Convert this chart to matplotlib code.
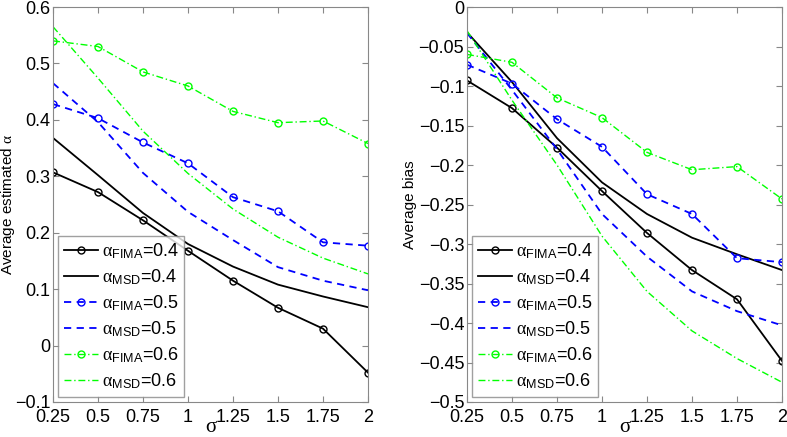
import numpy as np
import matplotlib
matplotlib.use('Agg')
import matplotlib.pyplot as plt

plt.rcParams['font.family'] = ['Liberation Sans', 'DejaVu Sans']
plt.rcParams['mathtext.fontset'] = 'custom'
plt.rcParams['mathtext.rm'] = 'Liberation Serif'
plt.rcParams['mathtext.it'] = 'Liberation Serif:italic'
plt.rcParams['mathtext.sf'] = 'Liberation Sans'

sigma = [0.25, 0.5, 0.75, 1.0, 1.25, 1.5, 1.75, 2.0]
xticklabels = ['0.25', '0.5', '0.75', '1', '1.25', '1.5', '1.75', '2']

# left panel: average estimated alpha
est_fima_04 = [0.307, 0.272, 0.222, 0.168, 0.115, 0.067, 0.030, -0.048]
est_msd_04 = [0.368, 0.302, 0.235, 0.180, 0.140, 0.108, 0.087, 0.068]
est_fima_05 = [0.428, 0.403, 0.360, 0.323, 0.263, 0.238, 0.183, 0.177]
est_msd_05 = [0.465, 0.396, 0.306, 0.237, 0.187, 0.139, 0.115, 0.098]
est_fima_06 = [0.540, 0.530, 0.485, 0.460, 0.415, 0.395, 0.398, 0.358]
est_msd_06 = [0.565, 0.474, 0.380, 0.305, 0.242, 0.192, 0.155, 0.127]

# right panel: average bias
bias_fima_04 = [-0.093, -0.128, -0.178, -0.233, -0.286, -0.333, -0.370, -0.448]
bias_msd_04 = [-0.032, -0.095, -0.166, -0.222, -0.262, -0.292, -0.313, -0.333]
bias_fima_05 = [-0.073, -0.097, -0.142, -0.177, -0.237, -0.262, -0.318, -0.323]
bias_msd_05 = [-0.033, -0.105, -0.180, -0.262, -0.316, -0.360, -0.385, -0.403]
bias_fima_06 = [-0.060, -0.070, -0.115, -0.140, -0.184, -0.206, -0.202, -0.243]
bias_msd_06 = [-0.030, -0.118, -0.200, -0.290, -0.360, -0.410, -0.445, -0.475]

labels = [r'$\mathrm{\alpha}_{\mathsf{FIMA}}$=0.4', r'$\mathrm{\alpha}_{\mathsf{MSD}}$=0.4',
          r'$\mathrm{\alpha}_{\mathsf{FIMA}}$=0.5', r'$\mathrm{\alpha}_{\mathsf{MSD}}$=0.5',
          r'$\mathrm{\alpha}_{\mathsf{FIMA}}$=0.6', r'$\mathrm{\alpha}_{\mathsf{MSD}}$=0.6']

styles = [
    dict(color='k', ls='-', lw=1.3, marker='o', mfc='none', ms=5),
    dict(color='k', ls='-', lw=1.3),
    dict(color='#0000ff', ls=(0, (4, 3)), lw=1.3, marker='o', mfc='none', ms=5),
    dict(color='#0000ff', ls=(0, (4, 3)), lw=1.3),
    dict(color='#00ff00', ls=(0, (5, 2, 1, 2)), lw=1.0, marker='o', mfc='none', ms=5),
    dict(color='#00ff00', ls=(0, (5, 2, 1, 2)), lw=1.0),
]


def panel(ax, series, ylim, yticks, yticklabels, ylabel, labelx):
    for s, st, lab in zip(series, styles, labels):
        ax.plot(sigma, s, label=lab, **st)
    ax.set_xlim(0.25, 2)
    ax.set_ylim(*ylim)
    ax.set_xticks(sigma)
    ax.set_xticklabels(xticklabels)
    ax.set_yticks(yticks)
    ax.set_yticklabels(yticklabels)
    ax.tick_params(direction='in', top=True, right=True, labelsize=13,
                   color='#888888', length=4, pad=2)
    ax.tick_params(axis='x', pad=5)
    for sp in ax.spines.values():
        sp.set_color('#888888')
    ax.set_xlabel('\u03c3', fontsize=15, labelpad=-6, family='Liberation Serif')
    ax.set_ylabel(ylabel, fontsize=11)
    ax.yaxis.set_label_coords(labelx, 0.5)
    leg = ax.legend(loc='lower left', fontsize=13, handlelength=1.9,
                    handletextpad=0.2, borderpad=0.3, labelspacing=0.35,
                    fancybox=False, borderaxespad=0.3)
    leg.get_frame().set_edgecolor('#888888')
    leg.get_frame().set_linewidth(1.0)


fig = plt.figure(figsize=(7.87, 4.37), dpi=100)
ax1 = fig.add_axes([53 / 787, 1 - 402 / 437, 315 / 787, 395 / 437])
ax2 = fig.add_axes([467 / 787, 1 - 402 / 437, 315 / 787, 395 / 437])

panel(ax1, [est_fima_04, est_msd_04, est_fima_05, est_msd_05, est_fima_06, est_msd_06],
      (-0.1, 0.6), np.arange(-0.1, 0.61, 0.1),
      ['\u22120.1', '0', '0.1', '0.2', '0.3', '0.4', '0.5', '0.6'],
      r'Average estimated $\mathrm{\alpha}$', -0.113)
panel(ax2, [bias_fima_04, bias_msd_04, bias_fima_05, bias_msd_05, bias_fima_06, bias_msd_06],
      (-0.5, 0), np.arange(-0.5, 0.01, 0.05),
      ['\u22120.5', '\u22120.45', '\u22120.4', '\u22120.35', '\u22120.3', '\u22120.25',
       '\u22120.2', '\u22120.15', '\u22120.1', '\u22120.05', '0'],
      'Average bias', -0.16)

fig.savefig('out.png', dpi=100)
